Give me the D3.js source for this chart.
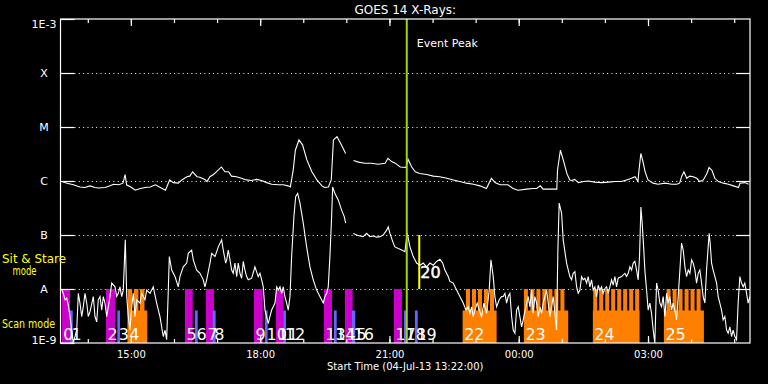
<!DOCTYPE html>
<html>
<head>
<meta charset="utf-8">
<script src="https://cdn.jsdelivr.net/npm/d3@7/dist/d3.min.js"></script>
<style>
body { margin:0; background:#000; }
svg { display:block; }
text { font-family:"DejaVu Sans", sans-serif; fill:#fff; }
</style>
</head>
<body>
<div id="chart"></div>
<script>

/* data : times are minutes after start (04-Jul-13 13:22), flux as log10(W/m2) */
var startTime = Date.UTC(2013,6,4,13,22)
var spanMinutes = 960
var levelValues = [1e-3,1e-4,1e-5,1e-6,1e-7,1e-8,1e-9]
var levelNames = ["1E-3","X","M","C","B","A","1E-9"]
var peakMinute = 482.1

var longChan1 = [[2,-6.01],[9,-6.04],[18,-6.07],[27,-6.11],[34,-6.12],[41,-6.09],[48,-6.12],[53,-6.13],[62,-6.12],[69,-6.09],[74,-6.06],[81,-6.07],[87,-6.04],[90,-5.88],[92,-6.07],[99,-6.12],[104,-6.17],[111,-6.14],[118,-6.12],[125,-6.11],[132,-6.07],[139,-6.12],[146,-6.17],[148,-6.11],[152,-5.98],[157,-6.03],[164,-6.04],[169,-5.98],[176,-5.92],[180,-5.91],[184,-5.83],[190,-5.92],[194,-5.93],[201,-5.97],[204,-6.01],[208,-5.92],[213,-5.88],[217,-5.83],[224,-5.74],[229,-5.83],[234,-5.83],[238,-5.91],[245,-5.92],[252,-5.95],[259,-5.98],[266,-5.99],[273,-5.97],[280,-5.99],[287,-6.03],[294,-6.06],[303,-6.07],[310,-6.07],[317,-6.09],[320,-6.11],[324,-5.80],[327,-5.43],[332,-5.24],[337,-5.33],[343,-5.61],[350,-5.83],[357,-5.98],[364,-6.09],[368,-6.12],[373,-6.11],[377,-5.98],[380,-5.24],[385,-5.18],[391,-5.33],[397,-5.49]]
var longChan2 = [[408,-5.62],[415,-5.65],[424,-5.67],[433,-5.67],[442,-5.69],[452,-5.67],[456,-5.58],[461,-5.64],[466,-5.67],[473,-5.74],[481,-5.75],[484,-5.60],[489,-5.74],[494,-5.83],[500,-5.86],[510,-5.88],[519,-5.91],[528,-5.92],[538,-5.95],[547,-5.98],[556,-6.01],[565,-6.04],[575,-6.06],[584,-6.09],[593,-6.14],[600,-5.95],[605,-6.03],[612,-6.07],[623,-6.07],[630,-6.14],[637,-6.17],[649,-6.15],[658,-6.14],[663,-6.14],[668,-6.09],[672,-6.15],[681,-6.15],[691,-6.15],[692,-5.80],[696,-5.43],[700,-5.61],[705,-5.86],[709,-5.98],[712,-5.99],[716,-5.97],[721,-6.03],[728,-6.01],[735,-6.00],[744,-6.02],[753,-6.03],[763,-6.02],[772,-6.01],[781,-6.01],[788,-5.98],[795,-5.95],[800,-5.92],[804,-6.01],[805,-5.86],[808,-5.49],[811,-5.64],[814,-5.83],[818,-5.98],[825,-6.04],[832,-6.06],[842,-6.04],[851,-6.06],[858,-6.06],[862,-6.04],[865,-5.91],[868,-5.83],[872,-5.95],[876,-5.91],[881,-5.92],[886,-5.95],[890,-6.01],[895,-5.98],[900,-5.86],[903,-5.75],[907,-5.80],[911,-5.95],[916,-6.01],[923,-6.04],[930,-6.06],[937,-6.09],[944,-6.12],[946,-6.04],[953,-6.03],[958,-6.06]]
var shortChan1 = [[2,-8.02],[3.9,-8.08],[6.3,-8.20],[8.6,-8.17],[10.9,-8.30],[13.2,-8.51],[15.6,-8.76],[17.8,-9.0],[22.6,-8.76],[24.8,-8.08],[27.1,-8.26],[29.5,-8.51],[31.7,-8.33],[34.1,-8.08],[36.5,-8.26],[38.7,-8.51],[41.1,-8.42],[45.7,-8.14],[48,-8.51],[50.4,-8.61],[52.6,-8.20],[55,-8.14],[57.4,-8.39],[59.6,-8.14],[61.9,-8.26],[64.3,-8.51],[68.9,-8.14],[71.3,-7.89],[75.9,-7.96],[78.2,-8.14],[80.5,-8.08],[82.8,-7.96],[85.2,-8.14],[87.4,-8.02],[90.2,-7.09],[92.2,-8.14],[94.4,-8.51],[96.7,-8.76],[99.1,-8.33],[101.3,-8.08],[103.7,-8.51],[106.1,-8.20],[110.7,-8.26],[113,-8.08],[117.6,-8.20],[120,-8.02],[124.6,-8.08],[129.2,-7.96],[133.9,-8.26],[138.5,-8.51],[143.1,-8.88],[145.5,-8.76],[147.8,-8.94],[150.1,-8.02],[151.5,-7.40],[154.8,-7.65],[159.4,-7.77],[164,-7.96],[166.3,-7.77],[170.9,-7.59],[175.7,-7.52],[177.9,-7.34],[182.6,-7.28],[184.9,-7.46],[189.6,-7.65],[194.2,-7.71],[198.8,-7.83],[201.1,-7.96],[203.5,-7.83],[208.1,-7.52],[210.5,-7.34],[215.1,-7.40],[219.7,-7.22],[224.4,-7.09],[226.6,-7.28],[230,-7.52],[231.4,-7.46],[233.6,-7.28],[236,-7.46],[238.3,-7.65],[240.5,-7.71],[242.9,-7.52],[245.3,-7.77],[247.5,-7.52],[249.9,-7.71],[252.2,-7.80],[254.5,-7.49],[256.8,-7.65],[259.2,-7.77],[261.4,-7.83],[266.2,-7.80],[270.7,-7.59],[275.3,-7.77],[277.7,-7.71],[280.1,-7.83],[282.3,-7.96],[284.7,-8.39],[287,-8.51],[289.3,-8.64],[291.6,-8.51],[294,-8.39],[296.2,-8.33],[298.6,-8.26],[301,-7.96],[303.2,-8.02],[305.6,-7.96],[307.9,-8.08],[310.1,-7.96],[312.5,-8.14],[314.9,-8.26],[317.1,-8.39],[319.5,-8.14],[321.8,-7.40],[325,-6.66],[327.4,-6.29],[330.2,-6.23],[333.4,-6.41],[338,-6.78],[342.7,-7.22],[347.3,-7.59],[351.9,-7.83],[356.6,-8.02],[361.2,-8.14],[365.8,-8.26],[368.2,-8.14],[370.6,-8.08],[372.8,-7.96],[375.1,-7.40],[377.5,-6.66],[378.9,-6.11],[382.1,-6.23],[386.7,-6.35],[391.4,-6.54],[395.1,-6.66],[397,-6.78]]
var shortChan2 = [[407.6,-6.97],[412.3,-7.00],[416.9,-7.02],[421.5,-7.03],[426.2,-6.97],[430.8,-7.03],[435.4,-7.02],[440.2,-7.04],[444.7,-7.03],[449.3,-7.00],[454.1,-6.91],[456.3,-6.85],[458.7,-6.97],[463.3,-7.15],[465.6,-7.22],[475,-7.28],[479.6,-7.31],[480.9,-7.15],[482.8,-6.97],[486.6,-7.22],[491.1,-7.40],[495.8,-7.52],[500.4,-7.56],[505,-7.52],[509.8,-7.59],[514.4,-7.52],[519,-7.56],[523.7,-7.49],[528.3,-7.45],[532.1,-7.52],[535.2,-7.65],[539.8,-7.77],[542.2,-7.86],[546.8,-7.89],[551.5,-8.02],[556.1,-8.14],[560.7,-8.26],[564.5,-8.39],[567.7,-8.33],[570,-8.45],[572.4,-8.33],[574.6,-8.51],[577,-8.39],[580.2,-8.26],[583,-8.39],[586.3,-8.51],[589.5,-8.26],[593.3,-8.45],[596.9,-8.02],[599.3,-7.46],[602.5,-7.77],[604.8,-8.14],[607.2,-8.33],[610.8,-8.20],[614.1,-8.14],[616.4,-8.14],[618.8,-8.08],[621.1,-8.26],[623.3,-8.14],[625.7,-8.08],[628.1,-8.51],[630.3,-8.76],[632.7,-8.82],[635,-8.39],[637.3,-8.33],[639.6,-8.51],[642,-8.70],[644.2,-8.57],[649,-8.26],[651.2,-8.14],[653.6,-8.33],[655.9,-8.02],[658.1,-8.45],[660.5,-8.14],[662.9,-8.26],[665.1,-8.51],[667.5,-8.33],[669.8,-8.45],[672.1,-8.26],[676.8,-8.02],[681.4,-8.51],[686,-8.14],[690.7,-8.76],[692.5,-7.28],[694.3,-6.41],[697.7,-6.60],[699.9,-7.09],[704.6,-7.52],[709.2,-7.77],[711.6,-7.83],[713.8,-7.71],[716.2,-7.68],[718.6,-7.96],[720.8,-8.08],[723.2,-8.02],[725.5,-7.77],[727.7,-7.83],[730.1,-7.80],[732.5,-7.89],[734.7,-7.77],[737.1,-7.96],[739.4,-7.83],[741.7,-8.02],[744,-7.96],[746.4,-8.14],[748.6,-7.93],[751,-8.02],[753.3,-7.96],[755.6,-8.08],[758,-7.99],[760.3,-7.96],[762.5,-8.08],[764.9,-7.96],[767.3,-7.83],[769.5,-7.93],[771.9,-7.77],[774.2,-7.96],[776.5,-7.80],[781.2,-7.77],[785.8,-7.71],[788.1,-7.77],[790.4,-7.71],[792.8,-7.59],[795.1,-7.65],[797.4,-7.52],[799.7,-7.49],[802.1,-7.65],[804.3,-7.83],[806.2,-7.40],[808.1,-6.48],[809.9,-6.78],[811.9,-7.22],[813.6,-7.65],[816,-8.02],[818.2,-8.39],[820.6,-8.26],[822.9,-8.45],[825.2,-8.76],[827.5,-9.0],[829.9,-7.89],[832.1,-8.02],[834.5,-8.26],[836.9,-8.33],[839.1,-8.14],[841.5,-8.51],[843.9,-8.08],[846.1,-8.26],[848.4,-8.14],[850.8,-8.39],[853,-8.26],[855.4,-8.39],[857.8,-8.57],[860,-8.14],[862.4,-7.65],[864.7,-7.15],[867,-7.28],[869.4,-7.59],[871.7,-7.77],[874,-7.65],[876.3,-7.71],[878.7,-7.46],[880.9,-7.52],[883.3,-7.65],[885.6,-7.89],[887.9,-7.71],[890.2,-7.65],[892.6,-7.89],[894.8,-8.14],[897.2,-8.26],[899.5,-7.65],[901.8,-7.22],[903.1,-6.97],[904.5,-7.15],[906.5,-7.52],[908.7,-7.65],[911.1,-7.77],[913.5,-7.89],[915.7,-8.14],[918,-8.26],[920.4,-8.39],[922.6,-8.57],[925,-8.51],[927.4,-8.76],[929.6,-8.82],[932,-8.70],[934.3,-8.88],[936.5,-8.76],[938.9,-8.88],[941.3,-8.94],[943.5,-8.26],[945.9,-7.77],[948.2,-7.89],[950.5,-7.96],[952.8,-7.89],[955.2,-8.08],[957.4,-8.26],[959.8,-8.14]]

/* scan mode observations: start, end, kind (m = full raster, b = short), label */
var scanBars = [[1.7,13.2,"m","0"],[13.2,17.0,"b","1"],[63.3,75.9,"m","2"],[79.1,82.8,"b","3"],[173.3,184.0,"m","5"],[187.2,191.0,"b","6"],[202.5,213.7,"m","7"],[211.9,216.0,"b","8"],[269.4,281.5,"m","9"],[284.7,288.4,"b","10"],[300.0,310.1,"m","11"],[310.1,313.9,"b","12"],[366.8,378.0,"m","13"],[380.7,384.5,"b","14"],[396.0,406.7,"m","15"],[405.8,410.4,"b","16"],[464.2,475.4,"m","17"],[478.2,482.0,"b","18"],[493.5,497.3,"b","19"]]
/* multi-step scan blocks: label, start, end, dwell per step, step starts */
var scanBlocks = [
  ["4",93.5,120.8,6.2,[93.5,102.3,110.7]],
  ["22",559.9,607.2,5.6,[564.5,572.9,581.2,589.6,598.0]],
  ["23",645.2,706.9,5.6,[645.2,654.2,662.6,670.9,679.3,687.6,696.0]],
  ["24",741.2,806.1,5.6,[741.7,750.0,758.4,766.7,775.1,783.4,791.8,800.1]],
  ["25",840.1,895.8,5.6,[843.8,852.2,860.5,868.9,877.2,885.6]]
]
/* sit & stare observation */
var stareBars = [[498.1,500.9,"20"]]
var fullTop = 1e-8
var shortTop = 4e-9

/* layout */
var chartW = 768, chartH = 384
var plotL = 60.5, plotR = 750, plotT = 19, plotB = 343
var colors = { m:"#cc00cc", b:"#6666ff", block:"#ff8000", stare:"#ffff00", peak:"#a6d40a" }

var svg = d3.select("#chart")
  .append("svg")
  .attr("width",chartW)
  .attr("height",chartH)
svg.append("rect")
  .attr("width",chartW)
  .attr("height",chartH)
  .attr("fill","#000")

var x = d3.scaleUtc()
  .domain([new Date(startTime), new Date(startTime + spanMinutes*60000)])
  .range([plotL,plotR])
var y = d3.scaleLog()
  .domain([1e-9,1e-3])
  .range([plotB,plotT])
  .clamp(true)
function xMin(m) { return x(new Date(startTime + m*60000)) }
function yLog(v) { return y(Math.pow(10,v)) }

svg.append("clipPath")
  .attr("id","plotClip")
  .append("rect")
  .attr("x",plotL)
  .attr("y",plotT)
  .attr("width",plotR-plotL)
  .attr("height",plotB-plotT)

/* dotted level lines */
svg.selectAll(".grid")
  .data(levelValues.slice(1,6))
  .enter().append("line")
  .attr("x1",plotL+14)
  .attr("x2",plotR-14)
  .attr("y1",function(d) { return Math.round(y(d))+0.5 })
  .attr("y2",function(d) { return Math.round(y(d))+0.5 })
  .style("stroke","#fff")
  .style("stroke-width",1)
  .style("stroke-dasharray","1,3.33")

/* scan mode bars */
svg.selectAll(".scanBar")
  .data(scanBars)
  .enter().append("rect")
  .attr("x",function(d) { return xMin(d[0]) })
  .attr("width",function(d) { return xMin(d[1]) - xMin(d[0]) })
  .attr("y",function(d) { return y(d[2]=="m" ? fullTop : shortTop) })
  .attr("height",function(d) { return plotB - y(d[2]=="m" ? fullTop : shortTop) })
  .attr("fill",function(d) { return colors[d[2]] })

scanBlocks.forEach(function(b) {
  svg.append("rect")
    .attr("x",xMin(b[1]))
    .attr("width",xMin(b[2]) - xMin(b[1]))
    .attr("y",y(shortTop))
    .attr("height",plotB - y(shortTop))
    .attr("fill",colors.block)
  b[4].forEach(function(s) {
    svg.append("rect")
      .attr("x",xMin(s))
      .attr("width",xMin(s+b[3]) - xMin(s))
      .attr("y",y(fullTop))
      .attr("height",plotB - y(fullTop))
      .attr("fill",colors.block)
  })
})

/* sit & stare marks */
svg.selectAll(".stare")
  .data(stareBars)
  .enter().append("rect")
  .attr("x",function(d) { return xMin(d[0]) })
  .attr("width",function(d) { return xMin(d[1]) - xMin(d[0]) })
  .attr("y",y(1e-7))
  .attr("height",y(1e-8) - y(1e-7))
  .attr("fill",colors.stare)

/* flux curves */
var fluxLine = d3.line()
  .x(function(d) { return xMin(d[0]) })
  .y(function(d) { return yLog(d[1]) })
var curves = [longChan1,longChan2,shortChan1,shortChan2]
curves.forEach(function(c) {
  svg.append("path")
    .attr("d",fluxLine(c))
    .attr("clip-path","url(#plotClip)")
    .attr("fill","none")
    .attr("stroke","#fff")
    .attr("stroke-width",1.1)
})

/* event labels */
var allLabels = scanBars.map(function(d) { return [d[0],d[3]] })
  .concat(scanBlocks.map(function(b) { return [b[1],b[0]] }))
svg.selectAll(".evLabel")
  .data(allLabels)
  .enter().append("text")
  .attr("x",function(d) { return xMin(d[0]) + 1.5 })
  .attr("y",plotB - 3.5)
  .style("font-size","16px")
  .text(function(d) { return d[1] })
svg.selectAll(".stareLabel")
  .data(stareBars)
  .enter().append("text")
  .attr("x",function(d) { return xMin(d[0]) + 2 })
  .attr("y",y(1e-8) - 11)
  .style("font-size","16px")
  .style("stroke","#fff")
  .style("stroke-width",0.5)
  .text(function(d) { return d[2] })

/* event peak */
svg.append("line")
  .attr("x1",xMin(peakMinute))
  .attr("x2",xMin(peakMinute))
  .attr("y1",plotT)
  .attr("y2",plotB)
  .style("stroke",colors.peak)
  .style("stroke-width",2)
svg.append("text")
  .attr("x",xMin(peakMinute) + 10)
  .attr("y",46.5)
  .style("font-size","11px")
  .text("Event Peak")

/* frame and axes */
svg.append("rect")
  .attr("x",plotL)
  .attr("y",plotT)
  .attr("width",plotR-plotL)
  .attr("height",plotB-plotT)
  .attr("fill","none")
  .attr("stroke","#fff")
  .attr("stroke-width",1.2)

function timeAxis(axisFn, yPos, every, size, labels) {
  var g = svg.append("g")
    .attr("transform","translate(0," + yPos + ")")
    .call(axisFn(x)
      .ticks(d3.utcHour.every(every))
      .tickSizeInner(size)
      .tickSizeOuter(0)
      .tickPadding(8)
      .tickFormat(labels ? d3.utcFormat("%H:%M") : ""))
  g.select(".domain").remove()
  g.selectAll("line").attr("stroke","#fff").attr("stroke-width",1.2)
  g.selectAll("text")
    .attr("fill","#fff")
    .style("font-family","DejaVu Sans")
    .style("font-size","10px")
  return g
}
timeAxis(d3.axisTop, plotT, 1, -4, false)
timeAxis(d3.axisTop, plotT, 3, -7, false)
timeAxis(d3.axisBottom, plotB, 1, -4, false)
timeAxis(d3.axisBottom, plotB, 3, -7, true)

var yLeft = svg.append("g")
  .attr("transform","translate(" + plotL + ",0)")
  .call(d3.axisLeft(y)
    .tickValues(levelValues)
    .tickSizeInner(-14)
    .tickSizeOuter(0)
    .tickFormat(function(d,i) { return levelNames[i] }))
yLeft.select(".domain").remove()
yLeft.selectAll("line").attr("stroke","#fff").attr("stroke-width",1.2)
yLeft.selectAll("text")
  .attr("fill","#fff")
  .attr("x",-16.5)
  .attr("text-anchor","middle")
  .attr("dy",function(d,i) { return i==0 ? "0.75em" : (i==6 ? "0" : "0.35em") })
  .style("font-family","DejaVu Sans")
  .style("font-size","11px")
var yRight = svg.append("g")
  .attr("transform","translate(" + plotR + ",0)")
  .call(d3.axisRight(y)
    .tickValues(levelValues.slice(1,6))
    .tickSizeInner(-14)
    .tickSizeOuter(0)
    .tickFormat(""))
yRight.select(".domain").remove()
yRight.selectAll("line").attr("stroke","#fff").attr("stroke-width",1.2)

/* titles */
svg.append("text")
  .attr("x",(plotL+plotR)/2)
  .attr("y",14)
  .attr("text-anchor","middle")
  .style("font-size","12px")
  .text("GOES 14 X-Rays:")
svg.append("text")
  .attr("x",(plotL+plotR)/2)
  .attr("y",370)
  .attr("text-anchor","middle")
  .style("font-size","10px")
  .text("Start Time (04-Jul-13 13:22:00)")

/* mode legend : text, x, baseline, drawn width */
var modeText = [["Sit & Stare",2,262.5,64],["mode",12.5,275,24],["Scan mode",2,328,53]]
svg.selectAll(".modeText")
  .data(modeText)
  .enter().append("text")
  .attr("x",function(d) { return d[1] })
  .attr("y",function(d) { return d[2] })
  .attr("textLength",function(d) { return d[3] })
  .attr("lengthAdjust","spacingAndGlyphs")
  .style("font-size","12px")
  .style("fill","#ffff00")
  .text(function(d) { return d[0] })

</script>
</body>
</html>
